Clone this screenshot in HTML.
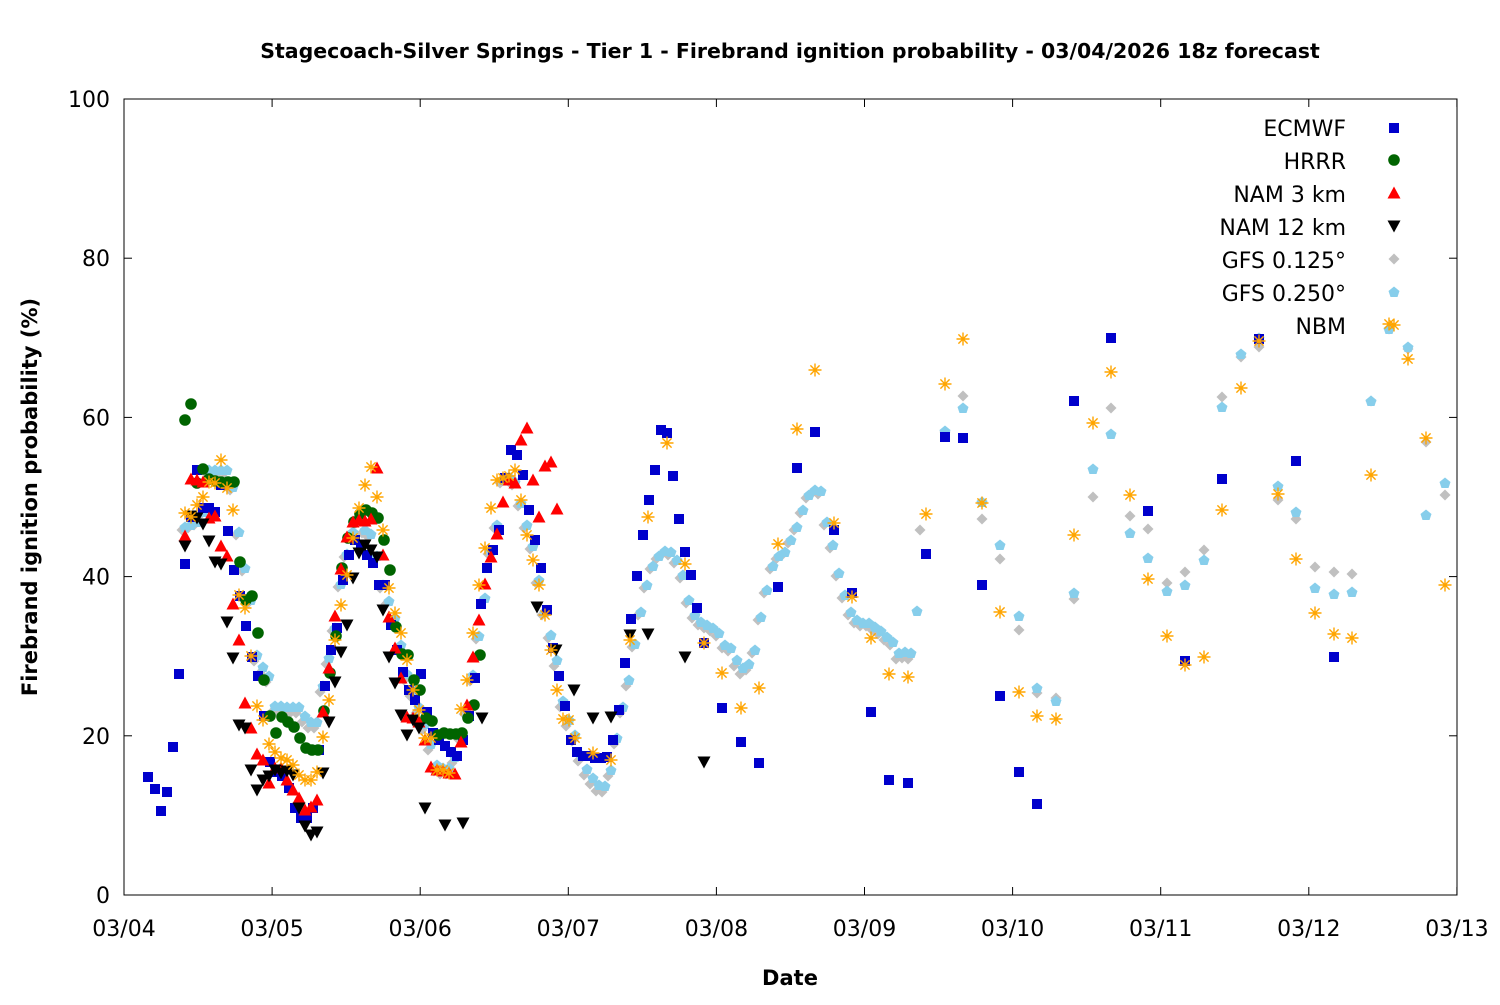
<!DOCTYPE html>
<html><head><meta charset="utf-8"><style>
body{margin:0;background:#fff}
svg text{font-family:"DejaVu Sans","Liberation Sans",sans-serif}
</style></head><body>
<svg id="s" width="1500" height="1000" xmlns="http://www.w3.org/2000/svg">
<rect width="1500" height="1000" fill="#fff"/>
<text x="790" y="58" text-anchor="middle" font-size="20.5" font-weight="bold">Stagecoach-Silver Springs - Tier 1 - Firebrand ignition probability - 03/04/2026 18z forecast</text>
<g id="pts"></g>
<rect x="124" y="99" width="1333" height="796" fill="none" stroke="#000" stroke-width="1"/>
<g id="ax" font-size="22"></g>
<text x="790" y="985" text-anchor="middle" font-size="21" font-weight="bold">Date</text>
<text transform="translate(37,497) rotate(-90)" text-anchor="middle" font-size="21" font-weight="bold">Firebrand ignition probability (%)</text>
<g font-size="22" text-anchor="end">
<text x="1346" y="136">ECMWF</text><text x="1346" y="169">HRRR</text><text x="1346" y="202">NAM 3 km</text><text x="1346" y="235">NAM 12 km</text><text x="1346" y="268">GFS 0.125°</text><text x="1346" y="301">GFS 0.250°</text><text x="1346" y="334">NBM</text>
</g>
</svg>
<script>
var NS="http://www.w3.org/2000/svg",g=document.getElementById('pts'),ax=document.getElementById('ax');
function el(p,t,a){var e=document.createElementNS(NS,t);for(var k in a)e.setAttribute(k,a[k]);p.appendChild(e);return e;}
var days=['03/04','03/05','03/06','03/07','03/08','03/09','03/10','03/11','03/12','03/13'];
for(var i=0;i<10;i++){var x=124+i*148.1;el(ax,'line',{x1:x,y1:895,x2:x,y2:887,stroke:'#000'});el(ax,'line',{x1:x,y1:99,x2:x,y2:107,stroke:'#000'});var t=el(ax,'text',{x:x,y:936,'text-anchor':'middle'});t.textContent=days[i];}
for(var v=0;v<=100;v+=20){var y=895-v*7.96;el(ax,'line',{x1:124,y1:y,x2:132,y2:y,stroke:'#000'});el(ax,'line',{x1:1457,y1:y,x2:1449,y2:y,stroke:'#000'});var t=el(ax,'text',{x:110,y:y+8,'text-anchor':'end'});t.textContent=v;}
function P(s){return s.trim().split(/;\s*/).map(function(p){return p.split(',').map(Number)});}
function mk(x,y,type){
 if(type=='sq')el(g,'rect',{x:x-5,y:y-5,width:10,height:10,fill:'#0000cc'});
 else if(type=='ci')el(g,'circle',{cx:x,cy:y,r:5.8,fill:'#006400'});
 else if(type=='tu')el(g,'polygon',{points:(x-6.5)+','+(y+5.5)+' '+(x+6.5)+','+(y+5.5)+' '+x+','+(y-6.5),fill:'#ff0000'});
 else if(type=='td')el(g,'polygon',{points:(x-6.5)+','+(y-5.5)+' '+(x+6.5)+','+(y-5.5)+' '+x+','+(y+6.5),fill:'#000'});
 else if(type=='di')el(g,'polygon',{points:x+','+(y-5.5)+' '+(x+5.5)+','+y+' '+x+','+(y+5.5)+' '+(x-5.5)+','+y,fill:'#c0c0c0'});
 else if(type=='hx')el(g,'polygon',{points:(x-5.5)+','+(y-1)+' '+x+','+(y-5.5)+' '+(x+5.5)+','+(y-1)+' '+(x+3.5)+','+(y+5)+' '+(x-3.5)+','+(y+5),fill:'#87ceeb'});
 else if(type=='st'){var d='M'+(x-6.5)+' '+y+'h13M'+x+' '+(y-6.5)+'v13M'+(x-4.6)+' '+(y-4.6)+'l9.2 9.2M'+(x-4.6)+' '+(y+4.6)+'l9.2 -9.2';el(g,'path',{d:d,stroke:'#ffa500','stroke-width':1.4,fill:'none'});}
}
var cy=P("185,527;191,525;197,522;203,512;209,470;215,470;221,470;227,470;233,487;239,532;245,568;251,600;257,655;263,667;269,676;275,706;281,706;287,707;293,707;299,707;305,716;311,722;317,722;323,686;329,658;335,628;341,584;347,554;353,532;359,520;365,530;371,534;377,556;383,585;389,601;395,618;401,645;407,674;413,690;419,707;425,724;431,744;437,765;443,768;449,768;455,757;461,733;467,708;473,675;479,636;485,598;491,551;497,525;503,480;509,477;515,482;521,503;527,525;533,546;539,580;545,612;551,635;557,660;563,701;569,720;575,735;581,755;587,769;593,778;599,785;605,786;611,770;617,738;623,707;629,680;635,644;641,612;647,585;653,566;659,556;665,551;671,552;677,560;683,575;689,600;695,615;701,622;707,625;713,628;719,633;725,645;731,648;737,660;743,668;749,664;755,650;761,617;767,590;773,566;779,556;785,552;791,540;797,527;803,510;809,495;815,490;821,491;827,522;833,545;839,573;845,595;851,612;857,620;863,623;869,623;875,627;881,631;887,637;893,642;899,653;905,652;911,653;917,611;945,431;963,408;982,502;1000,545;1019,616;1037,688;1056,701;1074,593;1093,469;1111,434;1130,533;1148,558;1167,591;1185,585;1204,560;1222,407;1241,354;1259,338;1278,486;1296,512;1315,588;1334,594;1352,592;1371,401;1389,329;1408,347;1426,515;1445,483");
var gr=cy.filter(function(p){return p[0]<915}).map(function(p){return [p[0]-3,p[1]+(p[1]>650?6:3)]}).concat(P("920,530;945,432;963,396;982,519;1000,559;1019,630;1037,693;1056,698;1074,599;1093,497;1111,408;1130,516;1148,529;1167,583;1185,572;1204,550;1222,397;1241,357;1259,347;1278,500;1296,519;1315,567;1334,572;1352,574;1371,401;1389,329;1408,349;1426,442;1445,495"));
var nbm=P("185,513;191,517;197,505;203,497;209,482;215,483;221,460;227,488;233,510;239,595;245,608;251,656;257,706;263,720;269,744;275,752;281,758;287,760;293,765;299,775;305,780;311,780;317,772;323,737;329,700;335,640;341,605;347,575;353,538;359,508;365,485;371,467;377,497;383,530;389,588;395,613;401,633;407,660;413,690;419,710;425,738;431,738;437,770;443,770;449,773;461,709;467,680;473,633;479,585;485,548;491,508;497,480;503,478;509,476;515,470;521,500;527,535;533,560;539,585;545,615;551,650;557,690;563,719;569,720;575,738;593,753;611,760;630,640;648,517;667,443;685,564;704,643;722,673;741,708;759,688;778,544;797,429;815,370;834,523;852,597;871,638;889,674;908,677;926,514;945,384;963,339;982,503;1000,612;1019,692;1037,716;1056,719;1074,535;1093,423;1111,372;1130,495;1148,579;1167,636;1185,665;1204,657;1222,510;1241,388;1259,341;1278,494;1296,559;1315,613;1334,634;1352,638;1371,475;1389,324;1408,359;1426,438;1445,585");
var ec=P("148,777;155,789;161,811;167,792;173,747;179,674;185,564;191,517;197,470;203,508;209,508;215,512;221,485;228,531;234,570;240,596;246,626;252,657;258,676;264,716;270,762;276,772;282,776;289,788;295,808;301,818;307,818;313,808;319,750;325,686;331,650;337,628;343,580;349,555;355,540;361,545;367,555;373,563;379,585;385,585;391,625;397,650;403,672;409,690;415,700;421,674;427,712;433,733;439,740;445,746;451,752;457,756;463,740;469,716;475,678;481,604;487,568;493,550;499,530;505,478;511,450;517,455;523,475;529,510;535,540;541,568;547,610;553,648;559,676;565,706;571,740;577,752;583,756;589,756;595,758;601,758;607,757;613,740;619,710;625,663;631,619;637,576;643,535;649,500;655,470;661,430;667,433;673,476;679,519;685,552;691,575;697,608;704,643;722,708;741,742;759,763;778,587;797,468;815,432;834,530;852,593;871,712;889,780;908,783;926,554;945,437;963,438;982,585;1000,696;1019,772;1037,804;1074,401;1111,338;1148,511;1185,661;1222,479;1259,339;1296,461;1334,657");
var hr=P("185,420;191,404;197,483;203,469;209,479;215,481;221,482;228,482;234,482;240,562;246,600;252,596;258,633;264,680;270,716;276,733;282,717;288,722;294,727;300,738;306,748;312,750;318,750;324,711;330,673;336,636;342,568;348,538;354,522;360,514;366,510;372,513;378,518;384,540;390,570;396,627;402,654;408,655;414,680;420,690;426,718;432,721;438,735;444,733;450,734;456,734;462,733;468,718;474,705;480,655");
var n3=P("185,536;191,479;197,480;203,482;209,518;215,516;221,546;227,556;233,604;239,640;245,703;251,728;257,754;263,760;269,783;275,768;281,768;287,780;293,790;299,798;305,810;311,807;317,800;323,712;329,668;335,616;341,569;347,537;353,522;359,520;365,521;371,519;377,468;383,555;389,617;395,648;401,678;407,717;413,718;419,722;425,740;431,767;437,770;443,771;449,773;455,774;461,742;467,705;473,657;479,620;485,584;491,557;497,534;503,502;509,480;515,483;521,440;527,428;533,480;539,517;545,466;551,462;557,509");
var n12=P("185,546;191,516;197,518;203,524;209,541;215,562;221,564;227,622;233,658;239,725;245,728;251,770;257,790;263,780;269,776;275,770;281,773;287,771;293,775;299,808;305,826;311,835;317,832;323,773;329,722;335,682;341,652;347,625;353,578;359,553;365,545;371,550;377,557;383,610;389,657;395,683;401,715;407,735;413,720;419,728;425,808;445,825;463,823;482,718;537,607;556,650;574,690;593,718;611,717;630,635;648,634;685,657;704,762");
[[gr,'di'],[cy,'hx'],[ec,'sq'],[hr,'ci'],[n3,'tu'],[n12,'td'],[nbm,'st']].forEach(function(s){s[0].forEach(function(p){mk(p[0],p[1],s[1])})});
var L=[['sq',128],['ci',160],['tu',193],['td',226],['di',259],['hx',292],['st',325]];
L.forEach(function(l){mk(1394,l[1],l[0])});
</script>
</body></html>
